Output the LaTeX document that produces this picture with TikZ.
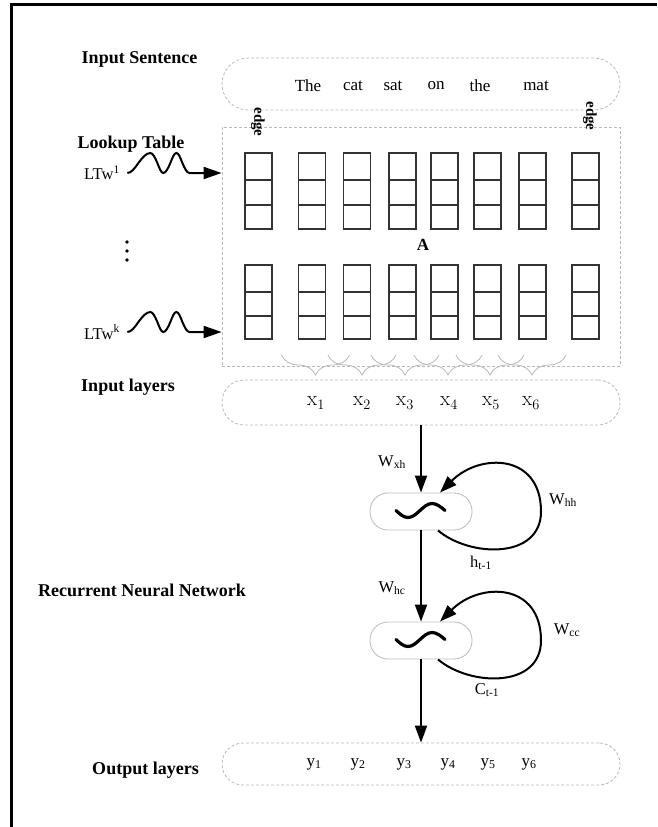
\documentclass[tikz,border=0pt]{standalone}
\usepackage[no-math]{fontspec}
\setmainfont{Liberation Serif}
\usetikzlibrary{arrows.meta,decorations.pathreplacing}

\tikzset{
  dashbox/.style={draw=gray!55, densely dashed, line width=0.8pt},
  layerlabel/.style={font=\fontsize{18}{20}\selectfont\bfseries},
  wordtext/.style={font=\fontsize{17}{20}\selectfont},
  mathtext/.style={font=\fontsize{21}{24}\selectfont},
  weightlabel/.style={font=\fontsize{16.5}{18}\selectfont},
  actbox/.style={draw=gray!50, line width=0.9pt, rounded corners=18pt,
    minimum width=102pt, minimum height=37pt},
  flow/.style={line width=2pt, -{Triangle[length=17pt,width=12pt]}},
  cellline/.style={draw=black!80, line width=1.4pt},
  inbrace/.style={draw=gray!55, line width=0.8pt, decorate,
    decoration={brace,mirror,amplitude=20pt}},
  tilde/.style={line width=3.2pt, line cap=round},
}

\begin{document}
\begin{tikzpicture}[x=1pt,y=-1pt]
  \useasboundingbox (0,0) rectangle (657,827);
  % frame
  \draw[line width=3pt] (10,4) -- (657,4);
  \draw[line width=3pt] (11,3) -- (11,827);

  % layer names
  \node[layerlabel] (lblsent) at (139.5,59) {Input Sentence};
  \node[layerlabel] (lbllook) at (131,144) {Lookup Table};
  \node[layerlabel] (lblin) at (128,387) {Input layers};
  \node[layerlabel] (lblrnn) at (142,590) {Recurrent Neural Network};
  \node[layerlabel] (lblout) at (145.5,770) {Output layers};

  % input sentence
  \node[dashbox, rounded corners=26pt, minimum width=398pt, minimum height=52pt] (sentence) at (421,84) {};
  \node[wordtext] (w1) at (308,86) {The};
  \node[wordtext] (w2) at (353,86) {cat};
  \node[wordtext] (w3) at (393,86) {sat};
  \node[wordtext] (w4) at (436,86) {on};
  \node[wordtext] (w5) at (480,86) {the};
  \node[wordtext] (w6) at (536,86) {mat};

  % lookup table
  \node[dashbox, minimum width=398pt, minimum height=239pt] (lookup) at (421,246.5) {};
  \node[font=\fontsize{15}{16}\selectfont\bfseries, rotate=-90] (edgeL) at (258,122) {edge};
  \node[font=\fontsize{15}{16}\selectfont\bfseries, rotate=-90] (edgeR) at (590,116) {edge};
  \foreach \cx in {258.5,312,357,402.5,444.5,487.5,532.5,585.5}{
    \draw[cellline] (\cx-13.5,153) rectangle (\cx+13.5,229);
    \draw[cellline] (\cx-13.5,180) -- (\cx+13.5,180) (\cx-13.5,205) -- (\cx+13.5,205);
    \draw[cellline] (\cx-13.5,265) rectangle (\cx+13.5,339);
    \draw[cellline] (\cx-13.5,292) -- (\cx+13.5,292) (\cx-13.5,316) -- (\cx+13.5,316);
  }
  \node[font=\fontsize{17}{18}\selectfont\bfseries] (mA) at (423,245) {A};

  \node[weightlabel] (ltwA) at (102,173) {LTw\textsuperscript{1}};
  \node[weightlabel] (ltwB) at (102,332) {LTw\textsuperscript{k}};
  \draw[line width=2pt, -{Triangle[length=18pt,width=12pt]}] ([xshift=4pt]ltwA.east)
    cos ++(11,-10) sin ++(12,-10) cos ++(7,10) sin ++(6,10)
    cos ++(7,-10) sin ++(6,-10) cos ++(6,10) sin ++(7,10) -- (lookup.west |- ltwA.east);
  \draw[line width=2pt, -{Triangle[length=18pt,width=12pt]}] ([xshift=4pt]ltwB.east)
    cos ++(11,-10) sin ++(12,-10) cos ++(7,10) sin ++(6,10)
    cos ++(7,-10) sin ++(6,-10) cos ++(6,10) sin ++(7,10) -- (lookup.west |- ltwB.east);
  \foreach \dy in {242,251,260}
    \fill (127,\dy) circle (1.8pt);

  % input layer
  \foreach \bx in {315.5,362,405,448,490,532}
    \draw[inbrace] (\bx-34,355) -- (\bx+34,355);
  \node[dashbox, rounded corners=22pt, minimum width=398pt, minimum height=45pt] (inputs) at (421,402.5) {};
  \node[mathtext] (x1) at (316,403) {$\mathrm{x}_1$};
  \node[mathtext] (x2) at (362,403) {$\mathrm{x}_2$};
  \node[mathtext] (x3) at (405,403) {$\mathrm{x}_3$};
  \node[mathtext] (x4) at (449,403) {$\mathrm{x}_4$};
  \node[mathtext] (x5) at (491,403) {$\mathrm{x}_5$};
  \node[mathtext] (x6) at (531,403) {$\mathrm{x}_6$};

  % recurrent part
  \node[actbox] (hid) at (421,511.5) {};
  \node[actbox] (cel) at (421,640.5) {};
  \foreach \bb in {hid,cel}
    \draw[tilde] ([xshift=-25pt,yshift=1pt]\bb.center) sin ++(12,7) cos ++(12,-7) sin ++(12,-7) cos ++(13,7);

  \draw[flow] (inputs.south) -- (hid.north);
  \draw[flow] (hid.south) -- (cel.north);
  \draw[flow] ([xshift=17pt]hid.south) .. controls +(32,27) and +(0,48) .. ([xshift=120pt]hid.center)
    .. controls +(0,-58) and +(40,-40) .. ([xshift=19pt]hid.north);
  \draw[flow] ([xshift=17pt]cel.south) .. controls +(32,27) and +(0,48) .. ([xshift=120pt]cel.center)
    .. controls +(0,-58) and +(40,-40) .. ([xshift=19pt]cel.north);

  \node[weightlabel] (wxh) at (392,462) {W\textsubscript{xh}};
  \node[weightlabel] (whh) at (563,500) {W\textsubscript{hh}};
  \node[weightlabel] (hprev) at (481,563) {h\textsubscript{t-1}};
  \node[weightlabel] (whc) at (392,588) {W\textsubscript{hc}};
  \node[weightlabel] (wcc) at (567,630) {W\textsubscript{cc}};
  \node[weightlabel] (cprev) at (487,690) {C\textsubscript{t-1}};

  % output layer
  \node[dashbox, rounded corners=21pt, minimum width=398pt, minimum height=42pt] (outputs) at (421,764) {};
  \draw[flow] (cel.south) -- (outputs.north);
  \node[wordtext] (y1) at (314,764) {y\textsubscript{1}};
  \node[wordtext] (y2) at (358,764) {y\textsubscript{2}};
  \node[wordtext] (y3) at (404,764) {y\textsubscript{3}};
  \node[wordtext] (y4) at (448,764) {y\textsubscript{4}};
  \node[wordtext] (y5) at (488,764) {y\textsubscript{5}};
  \node[wordtext] (y6) at (529,764) {y\textsubscript{6}};
\end{tikzpicture}
\end{document}
